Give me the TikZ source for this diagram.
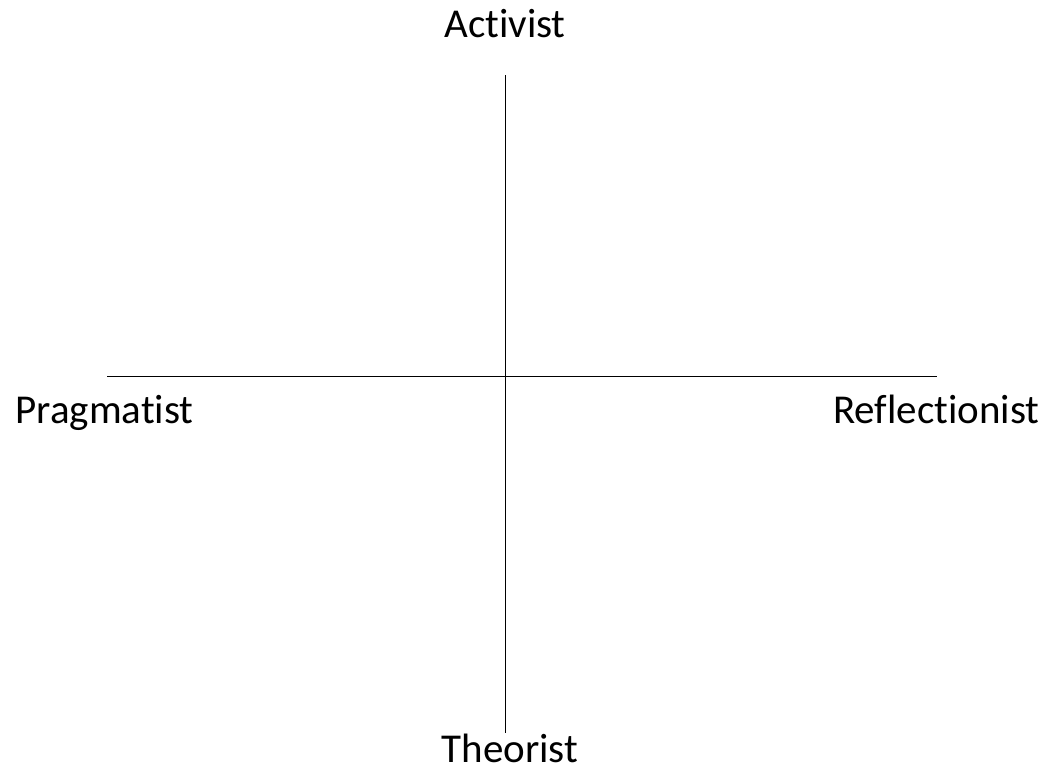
\documentclass[tikz,border=0pt]{standalone}
\usepackage{fontspec}
\setmainfont{Carlito}[Ligatures=CommonOff]
\usepackage{tikz}
\usetikzlibrary{positioning}

\begin{document}
\begin{tikzpicture}[x=1pt,y=-1pt,line width=1pt]
  \tikzset{axislabel/.style={anchor=base,inner sep=0pt,font=\fontsize{41}{49}\selectfont}}
  \useasboundingbox (0,0) rectangle (1047,771);
  % axes
  \coordinate (top) at (505,75);
  \coordinate (bottom) at (505,733);
  \coordinate (left) at (107,376);
  \coordinate (right) at (937,376);
  \draw (top) -- (bottom);
  \draw (left) -- (right);
  % labels
  \node[axislabel] (activist) at (505,37) {Activist};
  \node[axislabel] (pragmatist) at (104.5,423) {Pragmatist};
  \node[axislabel] (reflectionist) at (936.5,423) {Reflectionist};
  \node[axislabel] (theorist) at (510,762) {Theorist};
\end{tikzpicture}
\end{document}
